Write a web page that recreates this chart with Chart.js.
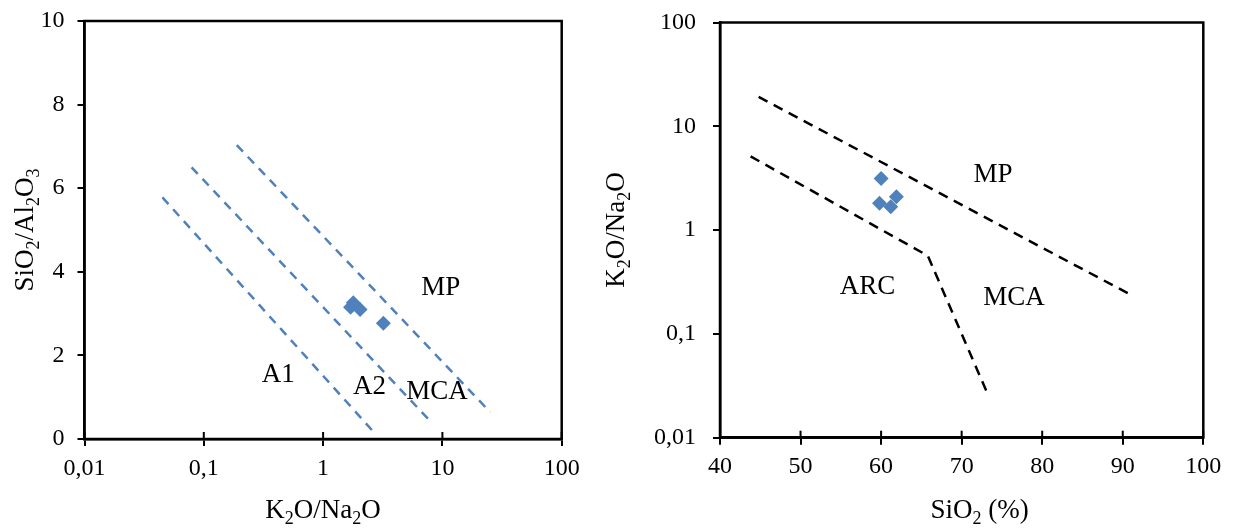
<!DOCTYPE html>
<html><head><meta charset="utf-8">
<script src="https://cdn.jsdelivr.net/npm/chart.js@4/dist/chart.umd.min.js"></script>
<style>
html,body{margin:0;padding:0;background:#fff;width:1236px;height:529px;overflow:hidden}
#w1{position:absolute;left:0;top:0;width:618px;height:529px}
#w2{position:absolute;left:590px;top:0;width:646px;height:529px}
</style></head><body>
<div id="w1"><canvas id="c1" width="618" height="529"></canvas></div>
<div id="w2"><canvas id="c2" width="646" height="529"></canvas></div>
<script>
// ---------- Left diagram: SiO2/Al2O3 vs K2O/Na2O ----------
const leftXTicks = [0.01, 0.1, 1, 10, 100];
const leftXTickLabels = ['0,01', '0,1', '1', '10', '100'];
const leftYTicks = [0, 2, 4, 6, 8, 10];
const leftSampleX = [3.20, 1.79, 1.70, 2.04];
const leftSampleY = [2.77, 3.26, 3.15, 3.10];
const lineA1X = [0.045, 2.65];
const lineA1Y = [5.78, 0.17];
const lineA2X = [0.079, 8.2];
const lineA2Y = [6.50, 0.38];
const lineMCAX = [0.189, 25.2];
const lineMCAY = [7.03, 0.64];
const leftLabelText = ['MP', 'A1', 'A2', 'MCA'];
const leftLabelX = [9.7, 0.42, 2.45, 9.0];
const leftLabelY = [3.65, 1.57, 1.29, 1.17];

// ---------- Right diagram: K2O/Na2O vs SiO2 ----------
const rightXTicks = [40, 50, 60, 70, 80, 90, 100];
const rightYTicks = [0.01, 0.1, 1, 10, 100];
const rightYTickLabels = ['0,01', '0,1', '1', '10', '100'];
const rightSampleX = [60.0, 59.8, 61.2, 61.9];
const rightSampleY = [3.14, 1.81, 1.68, 2.09];
const upperLineX = [44.8, 91.0];
const upperLineY = [19.2, 0.238];
const lowerLineX = [43.8, 65.8, 73.2];
const lowerLineY = [5.13, 0.566, 0.0267];
const rightLabelText = ['MP', 'ARC', 'MCA'];
const rightLabelX = [73.9, 58.3, 76.5];
const rightLabelY = [3.56, 0.298, 0.231];

const FONT = '"Liberation Serif", "Times New Roman", serif';
const BLUE = '#4F81BD';
const pts = (xs, ys) => xs.map((x, i) => ({x: x, y: ys[i]}));

function drawParts(ctx, parts, cx, baseY, size, subSize) {
  let w = 0;
  parts.forEach(p => { ctx.font = (p[1] ? subSize : size) + 'px ' + FONT; w += ctx.measureText(p[0]).width; });
  let x = cx - w / 2;
  ctx.textAlign = 'left';
  ctx.textBaseline = 'alphabetic';
  parts.forEach(p => {
    ctx.font = (p[1] ? subSize : size) + 'px ' + FONT;
    ctx.fillText(p[0], x, baseY + (p[1] ? 6 : 0));
    x += ctx.measureText(p[0]).width;
  });
}

function framePlugin(opts) {
  return {
    id: 'frame',
    afterDraw(chart) {
      const ctx = chart.ctx, a = chart.chartArea;
      const xs = chart.scales.x, ys = chart.scales.y;
      ctx.save();
      ctx.strokeStyle = '#000';
      ctx.lineWidth = 2.5;
      ctx.strokeRect(a.left, a.top, a.right - a.left, a.bottom - a.top);
      // inner half of crossing x ticks
      ctx.lineWidth = 2;
      xs.ticks.forEach(t => {
        const px = xs.getPixelForValue(t.value);
        ctx.beginPath(); ctx.moveTo(px, a.bottom); ctx.lineTo(px, a.bottom - 7); ctx.stroke();
      });
      // region labels
      ctx.fillStyle = '#000';
      ctx.font = '27px ' + FONT;
      ctx.textAlign = 'center';
      ctx.textBaseline = 'alphabetic';
      opts.labels.forEach((t, i) => {
        ctx.fillText(t, xs.getPixelForValue(opts.lx[i]), ys.getPixelForValue(opts.ly[i]) + 9);
      });
      // axis titles with subscripts
      drawParts(ctx, opts.xTitle, (a.left + a.right) / 2 + opts.xTitleShift, 518, 27, 18);
      ctx.save();
      ctx.translate(opts.yTitleX, (a.top + a.bottom) / 2);
      ctx.rotate(-Math.PI / 2);
      drawParts(ctx, opts.yTitle, 0, 0, 27, 18);
      ctx.restore();
      ctx.restore();
    }
  };
}

const tickFont = {family: FONT, size: 24};

function axisCommon(extra) {
  return Object.assign({
    grid: {display: true, drawOnChartArea: false, drawTicks: true, tickLength: 7, color: '#000', lineWidth: 2},
    border: {display: true, color: '#000', width: 2.5}
  }, extra);
}
function fixX(h) { return s => { s.height = h; s.paddingLeft = 0; s.paddingRight = 0; }; }
function fixY(w) { return s => { s.width = w; s.paddingTop = 0; s.paddingBottom = 0; }; }

// Left chart
new Chart(document.getElementById('c1'), {
  type: 'scatter',
  data: {
    datasets: [
      {data: pts(lineA1X, lineA1Y), showLine: true, borderColor: BLUE, borderWidth: 2.5, borderDash: [9, 7], pointRadius: 0},
      {data: pts(lineA2X, lineA2Y), showLine: true, borderColor: BLUE, borderWidth: 2.5, borderDash: [9, 7], pointRadius: 0},
      {data: pts(lineMCAX, lineMCAY), showLine: true, borderColor: BLUE, borderWidth: 2.5, borderDash: [9, 7], pointRadius: 0},
      {data: pts(leftSampleX, leftSampleY), pointStyle: 'rectRot', pointRadius: 7.5, backgroundColor: BLUE, borderColor: BLUE, borderWidth: 0}
    ]
  },
  options: {
    responsive: false, animation: false, devicePixelRatio: 1,
    layout: {padding: {top: 21, right: 56.3, left: 0, bottom: 0}},
    plugins: {legend: {display: false}, tooltip: {enabled: false}},
    scales: {
      x: axisCommon({
        type: 'logarithmic', min: 0.01, max: 100,
        afterBuildTicks: s => { s.ticks = leftXTicks.map(v => ({value: v})); },
        afterFit: fixX(90),
        ticks: {color: '#000', font: tickFont, padding: 8, maxRotation: 0, autoSkip: false,
          callback: (v, i) => leftXTickLabels[i]}
      }),
      y: axisCommon({
        type: 'linear', min: 0, max: 10,
        afterBuildTicks: s => { s.ticks = leftYTicks.map(v => ({value: v})); },
        afterFit: fixY(84.5),
        ticks: {color: '#000', font: tickFont, padding: 13, callback: v => String(v)}
      })
    }
  },
  plugins: [framePlugin({
    labels: leftLabelText, lx: leftLabelX, ly: leftLabelY,
    xTitle: [['K', 0], ['2', 1], ['O/Na', 0], ['2', 1], ['O', 0]], xTitleShift: 0,
    yTitle: [['SiO', 0], ['2', 1], ['/Al', 0], ['2', 1], ['O', 0], ['3', 1]], yTitleX: 33
  })]
});

// Right chart
new Chart(document.getElementById('c2'), {
  type: 'scatter',
  data: {
    datasets: [
      {data: pts(upperLineX, upperLineY), showLine: true, borderColor: '#000', borderWidth: 2.5, borderDash: [10, 7], pointRadius: 0},
      {data: pts(lowerLineX, lowerLineY), showLine: true, borderColor: '#000', borderWidth: 2.5, borderDash: [10, 7], pointRadius: 0},
      {data: pts(rightSampleX, rightSampleY), pointStyle: 'rectRot', pointRadius: 7.5, backgroundColor: BLUE, borderColor: BLUE, borderWidth: 0}
    ]
  },
  options: {
    responsive: false, animation: false, devicePixelRatio: 1,
    layout: {padding: {top: 22.5, right: 32.7, left: 0, bottom: 0}},
    plugins: {legend: {display: false}, tooltip: {enabled: false}},
    scales: {
      x: axisCommon({
        type: 'linear', min: 40, max: 100,
        afterBuildTicks: s => { s.ticks = rightXTicks.map(v => ({value: v})); },
        afterFit: fixX(91.3),
        ticks: {color: '#000', font: tickFont, padding: 8, maxRotation: 0, autoSkip: false, callback: v => String(v)}
      }),
      y: axisCommon({
        type: 'logarithmic', min: 0.01, max: 100,
        afterBuildTicks: s => { s.ticks = rightYTicks.map(v => ({value: v})); },
        afterFit: fixY(130),
        ticks: {color: '#000', font: tickFont, padding: 17, callback: (v, i) => rightYTickLabels[i]}
      })
    }
  },
  plugins: [framePlugin({
    labels: rightLabelText, lx: rightLabelX, ly: rightLabelY,
    xTitle: [['SiO', 0], ['2', 1], [' (%)', 0]], xTitleShift: 18,
    yTitle: [['K', 0], ['2', 1], ['O/Na', 0], ['2', 1], ['O', 0]], yTitleX: 34
  })]
});
</script>
</body></html>
